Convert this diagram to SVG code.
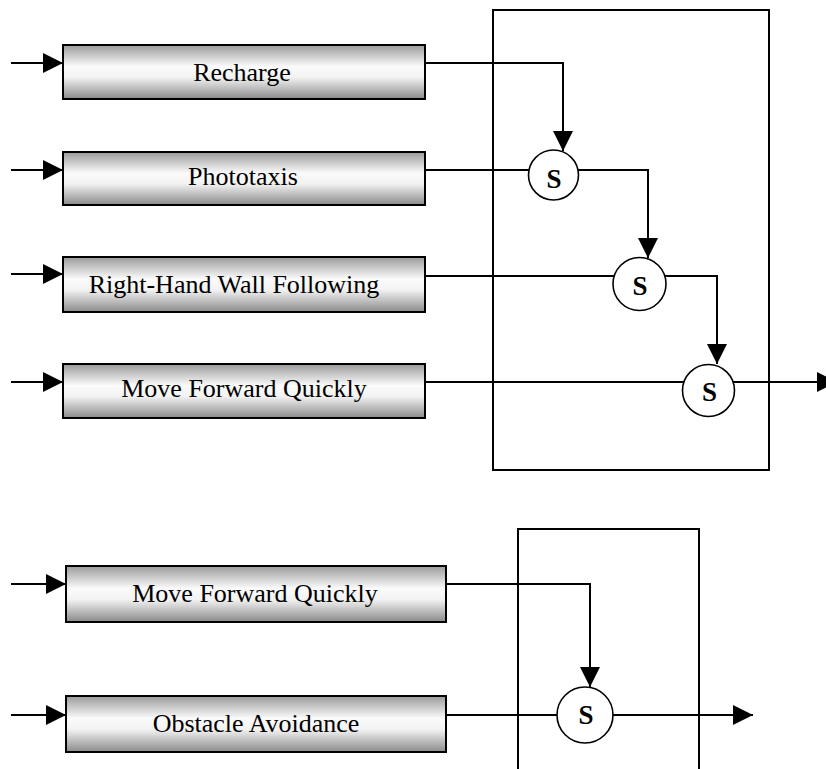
<svg xmlns="http://www.w3.org/2000/svg" width="826" height="769" viewBox="0 0 826 769">
<defs>
<linearGradient id="g" x1="0" y1="0" x2="0" y2="1">
<stop offset="0" stop-color="#9a9a9a"/>
<stop offset="0.4" stop-color="#fbfbfb"/>
<stop offset="0.6" stop-color="#f2f2f2"/>
<stop offset="1" stop-color="#8a8a8a"/>
</linearGradient>
<marker id="ah" markerUnits="userSpaceOnUse" markerWidth="20" markerHeight="20" refX="20" refY="10" orient="auto" viewBox="0 0 20 20">
<path d="M0,0 L20,10 L0,20 z" fill="#000"/>
</marker>
<style>
.box{fill:url(#g);stroke:#000;stroke-width:2}
.lbl{font-family:"Liberation Serif","Times New Roman",serif;font-size:26px;fill:#000;text-anchor:middle}
.s{font-family:"Liberation Serif","Times New Roman",serif;font-size:27px;font-weight:bold;fill:#000;text-anchor:middle}
.c{fill:#fff;stroke:#000;stroke-width:1.6}
.ln{fill:none;stroke:#000;stroke-width:2}
.fr{fill:none;stroke:#000;stroke-width:2}
</style>
</defs>
<rect width="826" height="769" fill="#fff"/>
<g id="frames">
<rect class="fr" x="493" y="10" width="276" height="460"/>
<path class="fr" d="M518,769 L518,529 L699,529 L699,769"/>
</g>
<g id="connectors">
<path class="ln" d="M11,63 L63,63" marker-end="url(#ah)"/>
<path class="ln" d="M11,170 L63,170" marker-end="url(#ah)"/>
<path class="ln" d="M11,274 L63,274" marker-end="url(#ah)"/>
<path class="ln" d="M11,382 L63,382" marker-end="url(#ah)"/>
<path class="ln" d="M11,584 L66,584" marker-end="url(#ah)"/>
<path class="ln" d="M11,715 L66,715" marker-end="url(#ah)"/>
<path class="ln" d="M425,63 L563,63 L563,151" marker-end="url(#ah)"/>
<path class="ln" d="M425,170 L535,170"/>
<path class="ln" d="M575,170 L648,170 L648,258" marker-end="url(#ah)"/>
<path class="ln" d="M425,276 L620,276"/>
<path class="ln" d="M660,276 L717,276 L717,364" marker-end="url(#ah)"/>
<path class="ln" d="M425,382 L690,382"/>
<path class="ln" d="M730,382 L837,382" marker-end="url(#ah)"/>
<path class="ln" d="M446,584 L590,584 L590,687" marker-end="url(#ah)"/>
<path class="ln" d="M446,715 L570,715"/>
<path class="ln" d="M600,715 L753,715" marker-end="url(#ah)"/>
</g>
<g id="recharge"><rect class="box" x="63" y="45" width="362" height="54"/><text class="lbl" x="242" y="81">Recharge</text></g>
<g id="phototaxis"><rect class="box" x="63" y="152" width="362" height="53"/><text class="lbl" x="243" y="185">Phototaxis</text></g>
<g id="wallfollow"><rect class="box" x="63" y="257" width="362" height="55"/><text class="lbl" x="234" y="293">Right-Hand Wall Following</text></g>
<g id="moveforward1"><rect class="box" x="63" y="364" width="362" height="54"/><text class="lbl" x="244" y="397">Move Forward Quickly</text></g>
<g id="moveforward2"><rect class="box" x="66" y="566" width="380" height="56"/><text class="lbl" x="255" y="602">Move Forward Quickly</text></g>
<g id="obstacle"><rect class="box" x="66" y="696" width="380" height="56"/><text class="lbl" x="256" y="732">Obstacle Avoidance</text></g>
<g id="s1"><circle class="c" cx="553.5" cy="175" r="25"/><text class="s" x="554" y="188">S</text></g>
<g id="s2"><circle class="c" cx="639.5" cy="284" r="26.5"/><text class="s" x="640" y="295">S</text></g>
<g id="s3"><circle class="c" cx="708.5" cy="390.5" r="26"/><text class="s" x="709.5" y="401">S</text></g>
<g id="s4"><circle class="c" cx="585" cy="715" r="28"/><text class="s" x="586" y="724">S</text></g>
</svg>
